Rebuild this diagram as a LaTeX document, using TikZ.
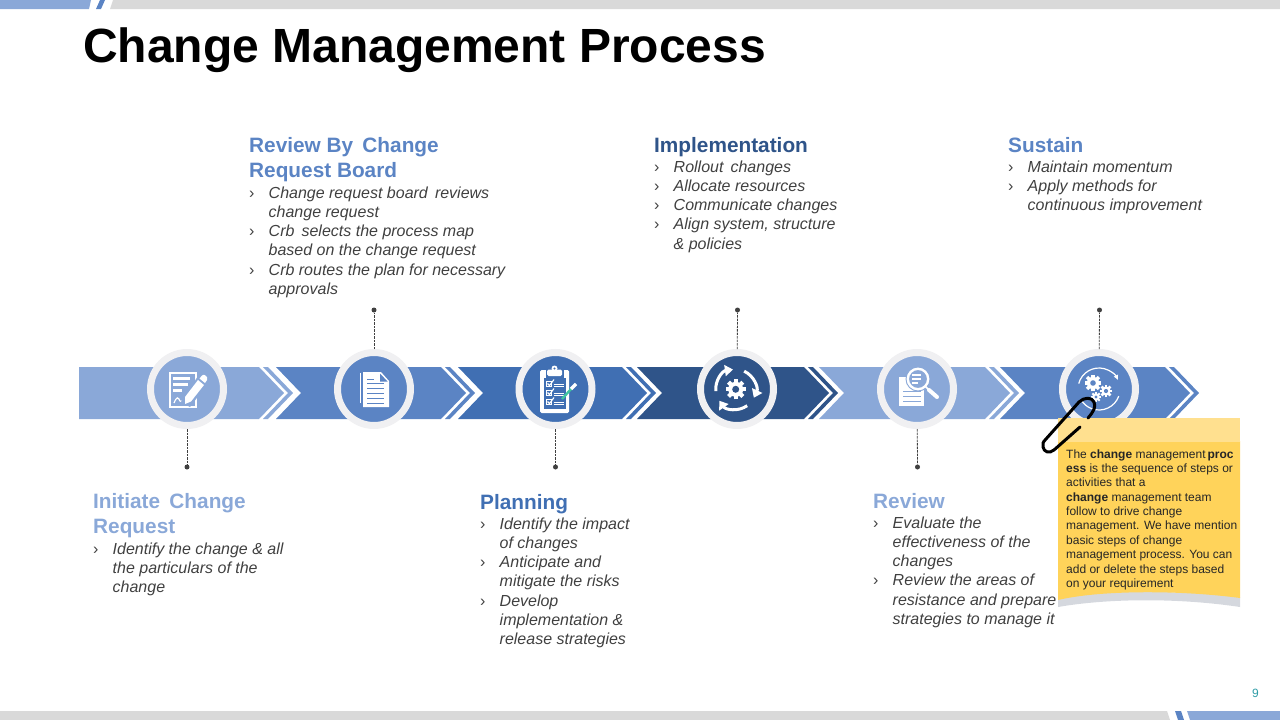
\documentclass[tikz,border=0pt]{standalone}
\usepackage{fontspec}
\setmainfont{Liberation Sans}
\usetikzlibrary{arrows.meta,calc}
\definecolor{cA}{HTML}{8AA8D8}
\definecolor{cB}{HTML}{5B84C4}
\definecolor{cC}{HTML}{406FB3}
\definecolor{cD}{HTML}{2F5489}
\definecolor{ringc}{HTML}{F0F0F2}
\definecolor{txt}{HTML}{404040}
\definecolor{noteA}{HTML}{FFE08F}
\definecolor{noteB}{HTML}{FFD35A}
\definecolor{barg}{HTML}{D9D9D9}
\definecolor{noteshade}{HTML}{D5D8DE}
\definecolor{teal9}{HTML}{2E9CA6}
\definecolor{pen}{HTML}{3FC6A0}
\newcommand{\seg}[3]{%
  \fill[#3] (#1,367)--(#2,367)--(#2+25,393)--(#2,419)--(#1,419)--(#1+25,393)--cycle;
  \fill[#3] (#2+4,367)--(#2+9,367)--(#2+34,393)--(#2+9,419)--(#2+4,419)--(#2+29,393)--cycle;}
\newcommand{\bi}[1]{\makebox[19.5pt][l]{\upshape ›}#1}
\newcommand{\bc}[1]{\hspace*{19.5pt}#1}
\newcommand{\first}{\rule{0pt}{14pt}}
\newcommand{\gearshape}[5]{% cx cy r hole colour
  \fill[white] (#1,#2) circle (#3);
  \foreach \a in {0,45,135,90}{\draw[white,line width=#3*0.55pt] ($(#1,#2)+(\a:#3*1.35)$) -- ($(#1,#2)+(\a+180:#3*1.35)$);}
  \fill[#5] (#1,#2) circle (#4);}
\tikzset{
  ring/.style={circle,draw=ringc,line width=7pt,minimum size=73pt,inner sep=0pt},
  leader/.style={draw=txt,line width=0.8pt,dash pattern=on 2.5pt off 1pt},
  enddot/.style={circle,fill=txt,minimum size=5pt,inner sep=0pt},
  head/.style={anchor=base west,inner sep=0pt,font=\fontsize{20.8}{25}\selectfont\bfseries,align=left},
  body/.style={anchor=north west,inner sep=0pt,font=\fontsize{16}{19.25}\selectfont\itshape,align=left,text=txt},
  notetext/.style={anchor=north west,inner sep=0pt,font=\fontsize{12}{14.35}\selectfont,align=left,text=black!85},
  arcarrow/.style={draw=white,line width=3pt,-{Triangle[length=8pt,width=11pt]}}
}
\begin{document}
\begin{tikzpicture}[x=1pt,y=-1pt]
\useasboundingbox (0,0) rectangle (1280,720);
% header / footer bars
\fill[cA] (0,0)--(91,0)--(89,9)--(0,9)--cycle;
\fill[cB] (100,0)--(105,0)--(101,9)--(96,9)--cycle;
\fill[barg] (113,0)--(1280,0)--(1280,9)--(110,9)--cycle;
\fill[barg] (0,711)--(1167,711)--(1170,720)--(0,720)--cycle;
\fill[cB] (1175,711)--(1181,711)--(1184,720)--(1178,720)--cycle;
\fill[cA] (1187,711)--(1280,711)--(1280,720)--(1190,720)--cycle;
\node[anchor=base west,inner sep=0pt,font=\fontsize{48}{50}\selectfont\bfseries] (title) at (83,62) {Change Management Process};
\node[anchor=base,inner sep=0pt,font=\fontsize{12}{14}\selectfont,text=teal9] (pageno) at (1255.5,697) {9};
% band
\fill[cA] (79,367)--(259,367)--(284,393)--(259,419)--(79,419)--cycle;
\fill[cA] (263,367)--(268,367)--(293,393)--(268,419)--(263,419)--(288,393)--cycle;
\seg{276}{441}{cB}
\seg{458}{622}{cC}
\seg{637}{804}{cD}
\seg{819}{985}{cA}
\seg{1000}{1165}{cB}
% rings
\node[ring,fill=cA] (c1) at (187,389) {};
\node[ring,fill=cB] (c2) at (374,389) {};
\node[ring,fill=cC] (c3) at (555.5,389) {};
\node[ring,fill=cD] (c4) at (737,389) {};
\node[ring,fill=cA] (c5) at (917,389) {};
\node[ring,fill=cB] (c6) at (1099,389) {};
% leaders
\node[enddot] (d1) at (187,467) {};
\node[enddot] (d2) at (374,310) {};
\node[enddot] (d3) at (555.5,467) {};
\node[enddot] (d4) at (737.5,310) {};
\node[enddot] (d5) at (917.5,467) {};
\node[enddot] (d6) at (1099.5,310) {};
\foreach \i in {1,...,6}{\draw[leader] (c\i) -- (d\i);}
% icon 1: form with pen
\draw[white,line width=2.2pt] (170,373) rectangle (196,407);
\fill[white] (173,377) rectangle (190,380);
\fill[white] (173,383) rectangle (188,386);
\fill[white] (173,389) rectangle (182,392);
\draw[white,line width=1.2pt] (174,403) .. controls (177,396) and (178,397) .. (180,401) .. controls (182,403) and (184,398) .. (188,401);
\fill[cA] (181,402)--(190,407)--(209,382)--(200,373)--cycle;
\fill[white] (185,397)--(185,404)--(191,401.5)--(204,385)--(198,380)--cycle;
\fill[white] (199.5,378.5)--(202,375.5) .. controls (203,374.5) and (204.5,374.5) .. (205.5,375.5) -- (207,377) .. controls (207.5,378) and (207.5,379) .. (207,380) -- (205,383) --cycle;
% icon 2: document
\draw[white,line width=1pt] (360.5,373) -- (360.5,403);
\fill[white] (363,372)--(381,372)--(389,381)--(389,407)--(363,407)--cycle;
\fill[cB] (380,373.5)--(380,381.5)--(387.5,381.5)--cycle;
\foreach \yy in {383,388,393,398,403}{\fill[cB] (367,\yy) rectangle (384,\yy+1.2);}
\fill[cB] (367,378.5) rectangle (374,379.7);
% icon 3: clipboard
\fill[white,rounded corners=1.5pt] (540,370) rectangle (569,413);
\fill[cC] (544,378) rectangle (566,408.5);
\fill[cC] (545.5,367) rectangle (563.5,378);
\fill[white,rounded corners=1.5pt] (547,369.5) rectangle (562,376);
\fill[white] (554.5,368.5) circle (3);
\fill[cC] (554.5,368.5) circle (1.2);
\foreach \yy in {384,393,402}{
  \draw[white,line width=0.7pt] (546.5,\yy-3) rectangle (551.5,\yy+2);
  \draw[white,line width=1.1pt] (547.5,\yy-0.5) -- (549.5,\yy+1.5) -- (554,\yy-4.5);
  \draw[white,line width=1pt] (553.5,\yy) -- (564,\yy);
  \draw[white,line width=1pt] (553.5,\yy+2.5) -- (564,\yy+2.5);}
\draw[pen,line width=2.4pt] (562,399) -- (572,388);
\draw[white,line width=3.4pt] (571,389) -- (576,384);
% icon 4: cycle and gear
\gearshape{735.7}{389.3}{7.5}{3.5}{cD}
\draw[arcarrow] ($(735.7,389.3)+(175:20)$) arc[start angle=175,end angle=262,radius=20];
\draw[arcarrow] ($(735.7,389.3)+(295:20)$) arc[start angle=295,end angle=385,radius=20];
\draw[arcarrow] ($(735.7,389.3)+(55:20)$) arc[start angle=55,end angle=145,radius=20];
% icon 5: document with magnifier
\fill[white] (899,377)--(924,377)--(924,406)--(899,406)--cycle;
\foreach \yy in {391,396,401}{\fill[cA] (903,\yy) rectangle (921,\yy+1.3);}
\fill[cA] (918,379) circle (12.5);
\draw[white,line width=2.4pt] (918,379) circle (10.2);
\fill[white] (912,374) rectangle (921,376);
\fill[white] (912,378) rectangle (921,380);
\fill[white] (912,382) rectangle (918,384);
\draw[white,line width=1.5pt] (925.5,386.5) -- (929,390);
\draw[white,line width=4pt,line cap=round] (929,390) -- (937,397);
% icon 6: gears and arc
\draw[white,line width=1.2pt,-{Latex[length=5pt,width=5pt]}] ($(1099,389)+(195:21)$) arc[start angle=195,end angle=335,radius=21];
\draw[white,line width=1.2pt] ($(1099,389)+(20:21)$) arc[start angle=20,end angle=150,radius=21];
\gearshape{1093}{383}{6.2}{2.8}{cB}
\gearshape{1106}{391}{4.6}{2.1}{cB}
\gearshape{1096}{397}{3.8}{1.7}{cB}
% note
\fill[noteshade] (1058,598) .. controls (1100,590) and (1180,590) .. (1240,597) -- (1240,607) .. controls (1180,598) and (1110,598) .. (1058,607) -- cycle;
\fill[noteB] (1058,441) -- (1240,441) -- (1240,598) .. controls (1180,590) and (1100,590) .. (1058,600) -- cycle;
\fill[noteA] (1058,418) rectangle (1240,441.5);
\node[notetext] (notebody) at (1066,448) {\rule{0pt}{10pt}The \textbf{change} management\,\textbf{proc}\\
\textbf{ess} is the sequence of steps or\\
activities that a\\
\textbf{change} management team\\
follow to drive change\\
management. We have mention\\
basic steps of change\\
management process. You can\\
add or delete the steps based\\
on your requirement};
% paper clip
\draw[black,line width=3pt,line cap=round,line join=round]
  (1080,427) -- (1054,450) .. controls (1049,454) and (1044,452) .. (1043,447)
  .. controls (1042,444) and (1043,442) .. (1046,439) -- (1079,402)
  .. controls (1084,397) and (1092,397) .. (1094,402) .. controls (1096,407) and (1094,411) .. (1088,418);
% texts
\node[head,text=cA] (h1) at (93,533) {Initiate\, Change\\Request};
\node[body] (b1) at (93,540) {\first\bi{Identify the change \& all}\\\bc{the particulars of the}\\\bc{change}};
\node[head,text=cB] (h2) at (249,177) {Review By\, Change\\Request Board};
\node[body] (b2) at (249,184) {\first\bi{Change request board\, reviews}\\\bc{change request}\\\bi{Crb\, selects the process map}\\\bc{based on the change request}\\\bi{Crb routes the plan for necessary}\\\bc{approvals}};
\node[head,text=cC] (h3) at (480,509) {Planning};
\node[body] (b3) at (480,515) {\first\bi{Identify the impact}\\\bc{of changes}\\\bi{Anticipate and}\\\bc{mitigate the risks}\\\bi{Develop}\\\bc{implementation \&}\\\bc{release strategies}};
\node[head,text=cD] (h4) at (654,152) {Implementation};
\node[body] (b4) at (654,158) {\first\bi{Rollout\, changes}\\\bi{Allocate resources}\\\bi{Communicate changes}\\\bi{Align system, structure}\\\bc{\& policies}};
\node[head,text=cA] (h5) at (873,508) {Review};
\node[body] (b5) at (873,514) {\first\bi{Evaluate the}\\\bc{effectiveness of the}\\\bc{changes}\\\bi{Review the areas of}\\\bc{resistance and prepare}\\\bc{strategies to manage it}};
\node[head,text=cB] (h6) at (1008,152) {Sustain};
\node[body] (b6) at (1008,158) {\first\bi{Maintain momentum}\\\bi{Apply methods for}\\\bc{continuous improvement}};
\end{tikzpicture}
\end{document}
